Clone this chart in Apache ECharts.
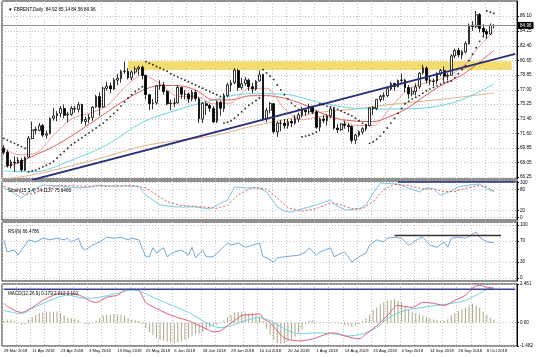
<!DOCTYPE html>
<html><head><meta charset="utf-8">
<script src="https://cdn.jsdelivr.net/npm/echarts@6/dist/echarts.min.js"></script>
<style>html,body{margin:0;padding:0;background:#fff}#c{width:536px;height:357px}</style>
</head><body><div id="c"></div>
<script>
// ---- categories: daily trading bars (Good Friday skipped) ----
const holidays = ['2018-03-30'];
const dates = [];
for (let d = new Date(Date.UTC(2018, 2, 29)); dates.length < 139; d.setUTCDate(d.getUTCDate() + 1)) {
  const wd = d.getUTCDay(); if (wd === 0 || wd === 6) continue;
  const s = d.toISOString().slice(0, 10); if (holidays.includes(s)) continue;
  dates.push(s);
}
const emptySlots = ['', '', '', '', '', ''];
const categories = dates.concat(emptySlots);

// ---- OHLC ----
const open = [69.8,69.3,67.6,68.1,68.0,68.3,67.1,68.7,71.0,72.1,72.0,72.6,71.4,71.6,73.5,73.8,74.1,74.7,73.9,74.0,74.7,74.6,75.2,73.1,73.4,73.6,74.9,76.2,74.9,77.2,77.5,77.1,78.2,78.4,79.3,79.3,78.5,79.2,79.6,79.8,78.8,76.4,75.3,75.4,77.5,77.6,76.8,75.3,75.4,75.4,77.3,76.5,76.5,75.9,76.7,75.9,73.4,75.3,75.1,74.7,73.1,75.5,74.7,76.3,77.6,77.9,79.4,77.3,77.8,78.2,77.4,77.1,78.1,78.9,73.4,74.5,75.3,71.8,72.9,72.9,72.6,73.1,72.9,73.4,73.9,74.5,74.3,75.0,74.3,72.4,73.4,73.2,73.8,74.6,72.3,72.1,72.8,72.6,72.5,70.8,71.4,71.8,72.2,72.6,74.8,74.7,75.8,76.2,76.3,77.1,77.8,77.4,78.2,78.2,77.3,76.5,76.8,77.4,79.1,79.7,78.2,78.1,78.1,79.0,79.4,78.7,78.8,81.2,81.9,81.3,81.7,82.7,85.0,84.8,86.3,84.6,84.2,83.9,84.92];
const close = [69.3,67.64,68.12,68.02,68.33,67.11,68.65,71.04,72.06,72.02,72.58,71.42,71.58,73.48,73.78,74.06,74.71,73.86,74.00,74.74,74.64,75.17,73.13,73.36,73.62,74.87,76.17,74.85,77.21,77.47,77.12,78.23,78.43,79.28,79.30,78.51,79.22,79.57,79.80,78.79,76.44,75.30,75.39,77.50,77.59,76.79,75.29,75.38,75.36,77.32,76.46,76.46,75.88,76.74,75.94,73.44,75.34,75.08,74.74,73.05,75.55,74.73,76.31,77.62,77.85,79.44,77.30,77.76,78.24,77.39,77.11,78.07,78.86,73.40,74.45,75.33,71.84,72.90,72.90,72.58,73.07,72.91,73.44,73.93,74.54,74.29,74.97,74.25,72.39,73.45,73.21,73.75,74.65,72.28,72.07,72.81,72.61,72.46,70.76,71.43,71.83,72.21,72.63,74.78,74.73,75.82,76.21,76.31,77.14,77.77,77.42,78.15,78.17,77.27,76.50,76.83,77.37,79.06,79.74,78.18,78.09,78.05,79.03,79.40,78.70,78.80,81.20,81.87,81.34,81.72,82.72,84.98,84.80,86.29,84.58,84.16,83.91,84.99,84.96];
const low = [69.0,67.4,67.3,66.9,67.9,66.9,67.0,68.6,70.9,71.5,71.9,71.2,71.0,71.5,73.2,73.1,73.6,73.5,73.0,73.8,74.2,74.2,72.8,72.6,72.9,73.2,74.8,73.8,74.8,76.9,76.6,77.0,77.6,77.9,79.0,78.3,78.2,78.9,78.8,78.3,75.8,74.5,74.6,75.2,77.0,76.4,75.1,74.5,74.9,75.3,75.9,75.8,75.4,75.6,75.6,72.9,72.9,73.9,74.3,72.9,72.9,73.8,74.3,76.1,76.8,77.7,76.9,77.0,77.5,76.9,76.6,76.9,78.0,73.2,73.0,74.1,71.6,71.2,71.9,72.2,72.2,72.4,72.7,73.0,73.6,73.8,74.0,74.0,72.2,71.9,72.9,72.6,73.5,72.1,71.7,71.9,72.2,71.8,70.4,70.3,71.2,71.5,71.9,72.5,73.9,74.5,75.5,75.7,76.1,76.9,76.9,77.3,77.8,76.7,75.9,76.2,76.3,77.1,78.9,77.8,77.6,77.5,77.7,78.7,78.0,78.2,78.8,80.9,81.0,80.8,81.5,82.6,84.3,84.6,84.1,83.6,83.3,83.8,84.58];
const high = [70.2,69.6,68.4,68.8,68.7,68.6,68.8,71.3,73.1,72.5,72.9,72.8,72.0,73.6,74.75,74.4,75.0,75.2,74.3,75.0,75.0,75.5,75.3,73.7,74.0,75.0,76.4,76.7,77.4,78.0,77.9,78.5,79.0,79.5,80.5,79.7,79.4,79.9,80.0,80.0,78.9,76.5,75.9,77.6,78.2,78.0,77.0,75.8,76.0,77.6,77.4,77.0,76.7,77.0,77.0,76.1,75.5,75.6,75.3,75.0,75.7,75.6,76.6,77.9,78.2,79.7,79.6,78.5,78.6,78.4,77.9,78.2,79.4,79.0,74.8,75.5,75.4,73.1,73.3,73.4,73.4,73.4,73.9,74.2,74.9,74.7,75.3,75.0,74.5,73.6,73.9,74.0,74.8,74.8,72.8,72.9,73.2,72.9,72.6,71.6,72.0,72.4,72.8,74.9,75.0,75.9,76.4,76.7,77.4,78.0,77.9,78.3,79.0,78.4,77.6,77.3,77.8,79.2,80.1,79.9,78.6,78.4,79.2,79.6,79.9,79.1,81.4,82.1,82.2,81.9,83.0,85.2,85.5,86.74,86.5,85.1,84.5,85.2,85.14];

// ---- moving averages (read at sample bars) ----
const maFast = [[0,69.8],[4,69.0],[9,69.2],[14,71.4],[19,73.4],[24,74.1],[29,75.0],[34,77.3],[39,78.8],[44,77.8],[49,76.2],[54,76.2],[59,75.3],[64,75.4],[69,77.2],[74,77.2],[79,74.7],[84,73.3],[89,73.7],[94,73.5],[99,72.6],[104,72.6],[109,74.9],[114,77.1],[119,77.9],[124,78.5],[129,79.8],[134,82.4],[138,84.3]];
const maMid = [[0,67.5],[4,68.0],[9,69.0],[14,70.0],[19,71.3],[24,72.75],[29,74.24],[34,75.71],[39,76.94],[44,77.55],[49,77.53],[54,76.99],[59,75.77],[64,75.77],[69,76.27],[74,76.29],[79,75.98],[84,75.27],[89,74.23],[94,73.44],[99,73.16],[104,73.08],[109,73.77],[114,74.85],[119,76.41],[124,77.76],[129,78.84],[134,80.44],[138,81.89]];
const maSlow = [[0,67.0],[9,66.9],[19,68.3],[29,70.2],[39,73.0],[49,74.55],[59,75.77],[69,76.53],[79,76.47],[89,75.45],[99,74.72],[109,74.65],[119,74.78],[129,75.79],[138,77.74]];
const maLong = [[0,65.96],[9,66.58],[19,67.63],[29,68.78],[39,70.06],[49,70.76],[59,71.34],[69,72.41],[79,73.33],[89,74.23],[99,74.64],[109,75.21],[119,75.65],[129,76.13],[138,76.65]];

// ---- parabolic SAR ----
const sar = [71.0,70.8,70.6,70.4,70.2,70.0,69.8,66.9,67.0,67.1,67.3,67.5,67.7,67.9,68.2,68.6,69.0,69.4,69.8,70.2,70.5,70.8,71.1,71.4,71.7,72.0,72.3,72.6,72.9,73.3,73.7,74.1,74.5,75.0,75.5,76.0,76.4,76.8,77.1,77.4,80.5,80.3,80.1,79.9,79.7,79.5,79.3,79.0,78.8,78.6,78.4,78.2,78.0,77.8,77.6,77.4,77.2,77.0,76.8,76.6,76.4,76.2,72.9,73.0,73.2,73.5,73.9,74.3,74.7,75.1,75.4,75.7,76.0,79.5,79.1,78.7,78.3,77.6,77.0,76.4,75.9,75.4,75.0,74.6,71.2,71.3,71.4,71.6,71.8,75.3,75.2,75.0,74.9,74.8,74.6,74.4,74.2,74.0,73.8,73.5,73.2,72.9,72.7,70.4,70.6,70.9,71.3,71.8,72.3,72.9,73.5,74.1,74.7,75.3,75.6,75.9,76.1,76.3,76.6,76.9,77.1,77.3,77.5,77.7,77.9,78.0,78.1,78.5,79.0,79.5,80.0,80.6,81.4,82.2,83.0,83.6,86.74,86.6,86.45];

// ---- drawn objects ----
const trendLine = [[8,65.88],[144,81.44]];
const resistZone = [79.45, 80.55];
const zoneStart = 35;
const lastPrice = 84.96;

// ---- Stochastic ----
const stochMain = [[0,85],[2,76],[5,56],[8,79],[11,93],[16,90],[21,85],[25,88],[26,93],[30,90],[38,90],[40,64],[44,36],[48,30],[54,30],[58,24],[63,50],[65,88],[68,85],[72,85],[74,73],[77,30],[79,18],[81,15],[88,36],[92,50],[93,38],[96,21],[100,24],[102,36],[104,70],[106,99],[111,96],[114,85],[117,73],[119,85],[121,82],[123,64],[126,76],[128,88],[131,93],[134,96],[136,82],[138,74.11]];
const stochSignal = [[0,90],[3,80],[6,65],[9,70],[12,85],[16,92],[22,90],[28,90],[36,92],[40,85],[43,65],[46,45],[50,34],[56,30],[60,26],[63,35],[66,65],[70,86],[74,82],[77,55],[80,28],[84,18],[88,25],[92,42],[95,36],[98,25],[101,25],[104,45],[107,80],[110,95],[114,92],[118,82],[121,82],[124,75],[127,74],[130,84],[134,92],[136,88],[138,75.65]];
const stochLevelLine = [[111,102],[144,102]];

// ---- RSI ----
const rsi = [[0,72],[1,49],[3,53],[4,43],[6,62],[7,72],[9,68],[11,75],[13,72],[15,75],[17,72],[18,75],[19,68],[21,75],[22,57],[23,53],[25,62],[27,68],[29,77],[31,75],[33,77],[35,72],[36,75],[38,72],[40,40],[41,40],[42,57],[43,47],[45,57],[46,40],[48,49],[50,53],[52,43],[53,58],[54,38],[56,53],[57,40],[59,40],[61,53],[63,66],[64,62],[66,66],[68,58],[70,62],[72,66],[73,40],[74,38],[76,30],[77,38],[79,40],[83,43],[85,49],[86,57],[88,43],[89,49],[92,57],[93,40],[95,47],[96,49],[98,30],[100,40],[102,47],[103,62],[105,72],[107,68],[108,75],[110,77],[112,75],[114,62],[115,66],[117,75],[118,77],[120,62],[122,58],[124,68],[125,58],[126,75],[128,77],[130,75],[133,87],[134,77],[136,68],[138,66.48]];
const rsiLevelLine = [[110,80],[140,80]];

// ---- MACD ----
const macdMain = [[0,1.23],[2,0.9],[5,0.65],[8,0.97],[11,1.42],[14,1.75],[16,1.87],[19,1.87],[22,1.68],[24,1.42],[26,1.29],[29,1.62],[32,1.75],[34,2.07],[36,2.13],[38,2.07],[40,1.29],[43,0.9],[46,0.58],[49,0.32],[52,0.13],[55,-0.19],[57,-0.39],[59,-0.58],[61,-0.52],[63,-0.19],[65,0.13],[67,0.45],[70,0.52],[72,0.58],[73,0.26],[75,0.0],[77,-0.52],[79,-0.97],[83,-1.16],[87,-1.03],[91,-0.71],[93,-0.65],[96,-0.84],[100,-1.03],[102,-0.71],[105,-0.19],[108,0.45],[111,1.1],[115,0.97],[118,1.29],[121,1.23],[124,1.1],[127,1.42],[130,1.75],[132,2.2],[134,2.39],[136,2.26],[138,2.2]];
const macdSignal = [[0,0.78],[5,0.58],[8,0.9],[13,1.42],[18,1.75],[23,1.55],[27,1.62],[32,1.87],[36,2.07],[39,1.94],[42,1.62],[46,1.23],[52,0.65],[57,0.0],[61,-0.32],[64,-0.19],[68,0.13],[72,0.32],[75,0.13],[79,-0.39],[83,-0.71],[88,-0.65],[93,-0.71],[97,-0.84],[101,-0.71],[105,-0.32],[108,0.26],[113,0.78],[118,0.97],[122,1.1],[126,1.23],[130,1.42],[134,1.87],[137,2.2],[138,2.2]];
const macdHist = [0.1,0.2,0.2,0.1,-0.05,-0.12,-0.1,0.2,0.35,0.5,0.6,0.65,0.7,0.7,0.72,0.7,0.6,0.45,0.3,0.3,0.25,0.15,0.0,-0.1,-0.12,-0.05,0.1,0.3,0.45,0.5,0.5,0.55,0.5,0.5,0.45,0.3,0.2,0.15,0.1,-0.1,-0.35,-0.6,-0.8,-0.95,-1.08,-1.15,-1.2,-1.25,-1.3,-1.25,-1.2,-1.1,-0.97,-0.85,-0.75,-0.7,-0.6,-0.45,-0.3,-0.2,-0.15,-0.05,0.15,0.35,0.5,0.65,0.7,0.7,0.65,0.6,0.6,0.5,0.4,0.1,-0.4,-0.75,-1.08,-1.3,-1.32,-1.3,-1.2,-1.05,-0.9,-0.65,-0.43,-0.1,0.12,0.15,0.05,-0.05,0.04,0.05,0.03,-0.04,-0.05,-0.06,-0.15,-0.2,-0.25,-0.2,-0.1,0.1,0.3,0.54,0.8,0.97,1.15,1.3,1.4,1.45,1.5,1.4,1.3,1.0,0.86,0.7,0.6,0.54,0.45,0.35,0.3,0.2,0.15,0.1,0.1,0.2,0.45,0.6,0.75,0.85,0.97,1.1,1.2,1.1,0.97,0.7,0.5,0.3,0.18];
const macdLevelLine = [[0,2.13],[144,2.13]];

// ---- tick labels ----
const priceTicks = [66.25,68.05,69.85,71.60,73.40,75.25,77.00,78.85,80.65,82.40,84.25,86.10];
const stochTicks = [0,20,80,100];
const rsiTicks = [0,30,70,100];
const macdTicks = [-1.482,0,2.461];
const macdTickText = {'-1.482':'-1.482','0':'0.00','2.461':'2.461'};
const months = ['Jan','Feb','Mar','Apr','May','Jun','Jul','Aug','Sep','Oct','Nov','Dec'];

const FONT = 'Liberation Sans';
const gridLine = {show:true, lineStyle:{color:'#c4c4c4', type:[1,2], width:1}};
const grids = [
  {left:2, right:19, top:1, height:178},
  {left:2, right:19, top:181, height:39},
  {left:2, right:19, top:222, height:59},
  {left:2, right:19, top:284, height:62}
].map(g => Object.assign(g, {show:true, borderColor:'#222', borderWidth:1, backgroundColor:'#fff'}));

function xAx(i) {
  return {
    type:'category', gridIndex:i, data:categories, boundaryGap:true,
    axisLine:{show:false}, axisTick:{show:false},
    splitLine:Object.assign({interval:3}, gridLine),
    axisLabel: i === 3 ? {
      show:true, interval:7, align:'left', margin:3, fontSize:4.2, color:'#000', fontFamily:FONT,
      formatter: v => { if (!v) return ''; const p = v.split('-'); return (+p[2]) + ' ' + months[+p[1]-1] + ' ' + p[0]; }
    } : {show:false}
  };
}
function yAx(i, min, max, ticks, fmt) {
  return {
    type:'value', gridIndex:i, position:'right', min:min, max:max, scale:true,
    axisLine:{show:true, lineStyle:{color:'#000'}},
    axisTick:{show:true, length:2, customValues:ticks, lineStyle:{color:'#000'}},
    axisLabel:{show:true, customValues:ticks, fontSize:4.6, color:'#000', margin:3, fontFamily:FONT, formatter:fmt},
    splitLine:gridLine
  };
}

const chart = echarts.init(document.getElementById('c'), null, {renderer:'canvas'});
const titleStyle = {fontSize:4.6, fontWeight:'normal', color:'#000', fontFamily:FONT};
chart.setOption({
  animation:false,
  backgroundColor:'#fff',
  title:[
    {text:'\u25BC FBRENT,Daily  84.92 85.14 84.58 84.96', left:3, top:2, textStyle:titleStyle},
    {text:'Stoch(15,5,4) 74.1137 75.6466', left:3, top:183, textStyle:titleStyle},
    {text:'RSI(9) 66.4786', left:3, top:224, textStyle:titleStyle},
    {text:'MACD(12,26,9) 0.179 2.012 2.101', left:3, top:286, textStyle:titleStyle}
  ],
  grid:grids,
  xAxis:[xAx(0), xAx(1), xAx(2), xAx(3)],
  yAxis:[
    yAx(0, 66.0, 87.98, priceTicks, v => v.toFixed(2)),
    yAx(1, -7.8, 104.9, stochTicks, v => String(v)),
    yAx(2, -5.7, 105.7, rsiTicks, v => String(v)),
    yAx(3, -1.482, 2.461, macdTicks, v => macdTickText[String(v)] || v.toFixed(3))
  ],
  series:[
    {type:'candlestick', xAxisIndex:0, yAxisIndex:0, barWidth:'62%',
     data: close.map((c, i) => [open[i], c, low[i], high[i]]),
     itemStyle:{color:'#fff', color0:'#000', borderColor:'#000', borderColor0:'#000', borderWidth:0.8},
     markArea:{silent:true, itemStyle:{color:'#f3dc70', opacity:1}, data:[[{xAxis:zoneStart, yAxis:resistZone[0]},{xAxis:143, yAxis:resistZone[1]}]]},
     markLine:{silent:true, symbol:'none', lineStyle:{color:'#909090', type:'solid', width:1},
       label:{show:true, position:'end', formatter:lastPrice.toFixed(2), backgroundColor:'#000', color:'#fff', fontSize:4.6, padding:[1,2], distance:1, fontFamily:FONT},
       data:[{yAxis:lastPrice}]},
     z:3},
    {type:'line', xAxisIndex:0, yAxisIndex:0, data:maLong, showSymbol:false, smooth:0.3, lineStyle:{color:'#deb28a', width:1}, z:2},
    {type:'line', xAxisIndex:0, yAxisIndex:0, data:maSlow, showSymbol:false, smooth:0.3, lineStyle:{color:'#6fd3e3', width:1}, z:2},
    {type:'line', xAxisIndex:0, yAxisIndex:0, data:maMid, showSymbol:false, smooth:0.3, lineStyle:{color:'#d9605a', width:1}, z:2},
    {type:'line', xAxisIndex:0, yAxisIndex:0, data:maFast, showSymbol:false, smooth:0.3, lineStyle:{color:'#ec9f94', width:1}, z:2},
    {type:'line', xAxisIndex:0, yAxisIndex:0, data:trendLine, showSymbol:false, lineStyle:{color:'#2a2f78', width:1.8}, z:4},
    {type:'scatter', xAxisIndex:0, yAxisIndex:0, data:sar.map((v,i)=>[i,v]), symbolSize:1.9, itemStyle:{color:'#000'}, z:4},
    {type:'line', xAxisIndex:1, yAxisIndex:1, data:stochMain, showSymbol:false, lineStyle:{color:'#7cc6e0', width:1}},
    {type:'line', xAxisIndex:1, yAxisIndex:1, data:stochSignal, showSymbol:false, lineStyle:{color:'#d9605a', width:1, type:[2,2]}},
    {type:'line', xAxisIndex:1, yAxisIndex:1, data:stochLevelLine, showSymbol:false, lineStyle:{color:'#2a2f78', width:1.5}},
    {type:'line', xAxisIndex:2, yAxisIndex:2, data:rsi, showSymbol:false, lineStyle:{color:'#74a9d8', width:1}},
    {type:'line', xAxisIndex:2, yAxisIndex:2, data:rsiLevelLine, showSymbol:false, lineStyle:{color:'#333', width:1.5}},
    {type:'bar', xAxisIndex:3, yAxisIndex:3, data:macdHist, barWidth:1, itemStyle:{color:'#aaa583'}},
    {type:'line', xAxisIndex:3, yAxisIndex:3, data:macdSignal, showSymbol:false, smooth:0.3, lineStyle:{color:'#6fd3e3', width:1}},
    {type:'line', xAxisIndex:3, yAxisIndex:3, data:macdMain, showSymbol:false, smooth:0.3, lineStyle:{color:'#e0607a', width:1}},
    {type:'line', xAxisIndex:3, yAxisIndex:3, data:macdLevelLine, showSymbol:false, lineStyle:{color:'#3a3f9a', width:1.5}}
  ]
});
</script>
</body></html>
